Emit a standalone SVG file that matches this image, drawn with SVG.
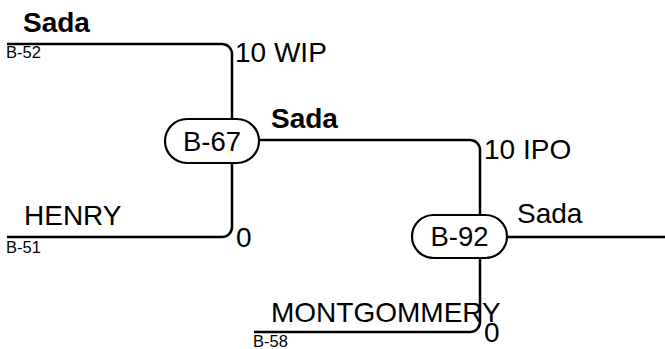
<svg xmlns="http://www.w3.org/2000/svg" width="665" height="349" viewBox="0 0 665 349">
<style>
.bg{fill:#ffffff}
.wire{fill:none;stroke:#000;stroke-width:2.5}
.pill{fill:#ffffff;stroke:#000;stroke-width:2.2}
.big{font-family:"Liberation Sans",Arial,sans-serif;font-size:28px;fill:#000}
.bold{font-family:"Liberation Sans",Arial,sans-serif;font-size:28px;font-weight:bold;fill:#000}
.small{font-family:"Liberation Sans",Arial,sans-serif;font-size:16.5px;fill:#000}
.node{font-family:"Liberation Sans",Arial,sans-serif;font-size:27.5px;fill:#000;text-anchor:middle}
</style>
<rect class="bg" x="0" y="0" width="665" height="349"/>
<g id="connectors">
<path class="wire" d="M7 44 H222 A10 10 0 0 1 232 54 V120"/>
<path class="wire" d="M232 162 V227 A10 10 0 0 1 222 237 H7"/>
<path class="wire" d="M256 140 H470 A10 10 0 0 1 480 150 V216"/>
<path class="wire" d="M480 257 V322 A10 10 0 0 1 470 332 H254"/>
<path class="wire" d="M504 237 H665"/>
</g>
<g id="labels">
<text class="bold" x="23" y="32">Sada</text>
<text class="small" x="6" y="58">B-52</text>
<text class="big" x="235" y="62">10 WIP</text>
<text class="bold" x="271" y="128">Sada</text>
<text class="big" x="484" y="159">10 IPO</text>
<text class="big" x="517" y="223">Sada</text>
<text class="big" x="24" y="225">HENRY</text>
<text class="small" x="6" y="253">B-51</text>
<text class="big" x="236" y="247">0</text>
<text class="big" x="271" y="322">MONTGOMMERY</text>
<text class="big" x="484" y="342">0</text>
<text class="small" x="253" y="347">B-58</text>
</g>
<g id="node-b67">
<rect class="pill" x="165" y="119" width="94" height="44" rx="22"/>
<text class="node" x="212" y="151">B-67</text>
</g>
<g id="node-b92">
<rect class="pill" x="412" y="215" width="95" height="43" rx="21.5"/>
<text class="node" x="459.5" y="246">B-92</text>
</g>
</svg>
